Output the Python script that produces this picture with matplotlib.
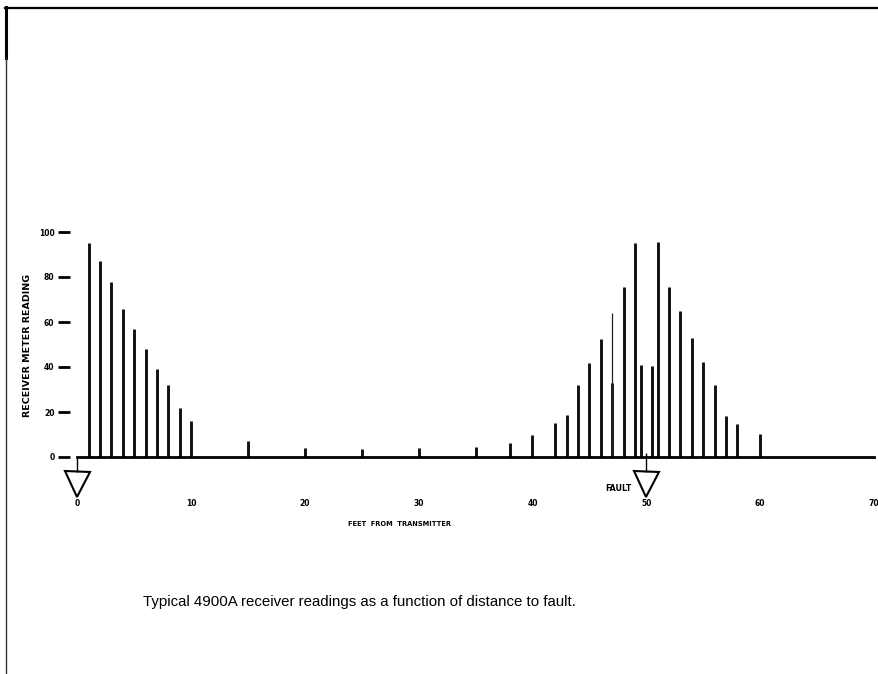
import matplotlib
matplotlib.use("Agg")
import matplotlib.pyplot as plt
from matplotlib.lines import Line2D

# distance from transmitter (feet) and receiver meter readings
distance_ft = [1, 2, 3, 4, 5, 6, 7, 8, 9, 10, 15, 20, 25, 30, 35, 38, 40, 42, 43, 44,
               45, 46, 47, 48, 49, 49.5, 50.5, 51, 52, 53, 54, 55, 56, 57, 58, 60]
readings = [95, 87, 78, 66, 57, 48, 39, 32, 22, 16, 7, 4, 3.5, 3.8, 4.6, 6.4, 10, 15.3, 18.7, 32,
            42, 52.5, 33, 75.4, 95, 41, 40.5, 95.5, 75.4, 65, 53, 42.4, 32, 18.2, 14.7, 10.2]

# faint pencil line drawn over the 47 ft reading
pencil_x = [47]
pencil_h = [64]

# transmitter and fault markers
marker_x = [0, 50]
marker_labels = ["", "FAULT"]

x_ticks = [0, 10, 20, 30, 40, 50, 60, 70]
y_ticks = [0, 20, 40, 60, 80, 100]

W, H = 879, 674
fig = plt.figure(figsize=(W / 100, H / 100), dpi=100)

# axes placed so that 0..70 ft maps onto the scanned axis line
ax_left, ax_right = 60.2, 879.6
ax_top, ax_bottom = 200.5, 470.5
ax = fig.add_axes([ax_left / W, 1 - ax_bottom / H,
                   (ax_right - ax_left) / W, (ax_bottom - ax_top) / H])
ax.set_xlim(-1.5, 70.5)
ax.set_ylim(-6, 114)

ax.vlines(distance_ft, 0, readings, color="#111111", linewidth=2.1)
ax.vlines(pencil_x, 0, pencil_h, color="#222222", linewidth=0.9)

# axis styling
for side in ["top", "right"]:
    ax.spines[side].set_visible(False)
ax.spines["bottom"].set_position(("data", 0))
ax.spines["bottom"].set_bounds(x_ticks[0], x_ticks[-1])
ax.spines["bottom"].set_linewidth(2.0)
ax.spines["left"].set_position(("data", -0.6))
ax.spines["left"].set_visible(False)

ax.set_xticks(x_ticks)
ax.set_xticklabels([str(t) for t in x_ticks], fontsize=5.5, fontweight="bold")
ax.tick_params(axis="x", length=0, pad=30)
ax.set_yticks(y_ticks)
ax.set_yticklabels([str(t) for t in y_ticks], fontsize=5.5, fontweight="bold")
ax.tick_params(axis="y", length=8.5, width=2, pad=3, direction="out")

ax.set_xlabel("FEET  FROM  TRANSMITTER", fontsize=4.8, fontweight="bold")
ax.xaxis.set_label_coords((400 - ax_left) / (ax_right - ax_left), (ax_bottom - 521) / (ax_bottom - ax_top))
ax.set_ylabel("RECEIVER METER READING", fontsize=6.8, fontweight="bold")
ax.yaxis.set_label_coords((32 - ax_left) / (ax_right - ax_left), (ax_bottom - 345) / (ax_bottom - ax_top))

# triangle markers hanging below the axis
ax.plot(marker_x, [-11.8] * len(marker_x), linestyle="none", marker="v", markersize=18,
        markerfacecolor="white", markeredgecolor="black", markeredgewidth=1.5, clip_on=False)
ax.vlines(marker_x, [0, 1.8], -6.8, color="black", linewidth=1.0, clip_on=False)
for mx, lab in zip(marker_x, marker_labels):
    if lab:
        ax.text(mx - 1.3, -13.8, lab, fontsize=5.8, fontweight="bold", ha="right", va="center")

# caption
fig.text(359 / W, 1 - 602 / H,
         "Typical 4900A receiver readings as a function of distance to fault.",
         fontsize=10.8, family="Liberation Sans", ha="center", va="center")

# scanned page border
fig.add_artist(Line2D([5 / W, 1], [1 - 7.5 / H, 1 - 7.5 / H], color="black", linewidth=1.6))
fig.add_artist(Line2D([6 / W, 6 / W], [1 - 7 / H, 1 - 58 / H], color="black", linewidth=2.2))
fig.add_artist(Line2D([6.5 / W, 6.5 / W], [1 - 58 / H, 0], color="#333333", linewidth=1.0))

fig.savefig("out.png", dpi=100)
